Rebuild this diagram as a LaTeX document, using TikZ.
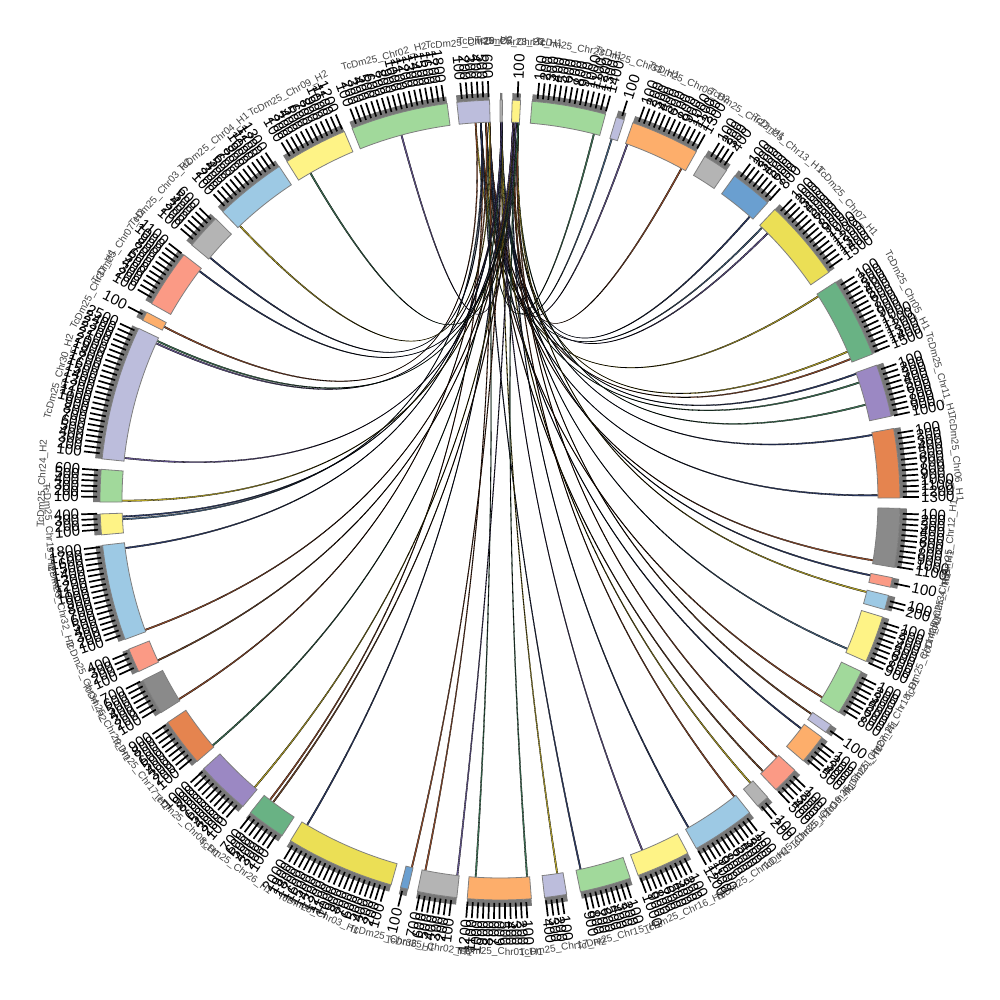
\documentclass[tikz,border=0pt]{standalone}
\usepackage{fontspec}
\setmainfont{Liberation Sans}
\definecolor{cLG}{HTML}{A1D99B}
\definecolor{cLV}{HTML}{BCBDDC}
\definecolor{cLO}{HTML}{FDAE6B}
\definecolor{cLY}{HTML}{B4B4B4}
\definecolor{cBL}{HTML}{6A9FD0}
\definecolor{cYD}{HTML}{EBDF55}
\definecolor{cMG}{HTML}{69B284}
\definecolor{cPU}{HTML}{9B88C3}
\definecolor{cOD}{HTML}{E5844F}
\definecolor{cDG}{HTML}{8A8A8A}
\definecolor{cSA}{HTML}{FB9A85}
\definecolor{cLB}{HTML}{9DC9E4}
\definecolor{cYL}{HTML}{FEF386}
\definecolor{bandline}{HTML}{7F7F7F}
\definecolor{stripgray}{HTML}{777777}
\definecolor{namegray}{HTML}{444444}
\definecolor{lkA}{HTML}{7A4A2A}
\definecolor{lkB}{HTML}{C9B52A}
\definecolor{lkC}{HTML}{2F3F6F}
\definecolor{lkD}{HTML}{3F7A5A}
\definecolor{lkE}{HTML}{6A5A9A}
\definecolor{lkF}{HTML}{A0522D}
\definecolor{lkG}{HTML}{4A6A8A}
\tikzset{
  band/.style={draw=bandline, line width=0.8pt},
  strip/.style={fill=stripgray},
  tickmark/.style={line width=1.7pt, draw=black},
  ticklab/.style={inner sep=0pt, font=\fontsize{15}{15}\selectfont, text=black},
  chrname/.style={inner sep=0pt, font=\fontsize{10}{10}\selectfont, text=namegray},
  ribbon/.style={draw=black, line width=0.3pt},
}
\begin{document}
\begin{tikzpicture}[x=1pt,y=1pt]
\useasboundingbox[fill=white] (-500pt,-500pt) rectangle (500pt,500pt);
% links (ribbons) from the top segments
\foreach \a/\b/\c in {
 357.0/14.5/lkD, 358.3/17.3/lkG, 0.1/19.8/lkE, 2.3/28.8/lkF,
 2.7/41.5/lkC, 357.8/44.0/lkG, 0.2/45.2/lkE, 356.2/57.5/lkB,
 1.9/67.0/lkB, 358.3/68.2/lkF, 0.1/70.6/lkC, 357.0/72.0/lkD, 2.7/75.5/lkD,
 0.2/80.2/lkC, 357.8/89.4/lkC, 358.3/99.3/lkF,
 0.1/101.6/lkC, 2.7/104.2/lkB, 0.2/113.3/lkG,
 357.0/121.6/lkF, 1.9/124.6/lkA, 358.3/127.3/lkC, 2.7/133.0/lkF,
 357.8/136.0/lkA, 0.2/138.6/lkB, 2.3/141.8/lkF, 1.9/150.2/lkC,
 0.1/158.0/lkE, 357.0/167.8/lkC, 0.2/171.4/lkB,
 2.3/176.0/lkD, 357.8/183.8/lkD, 1.9/186.6/lkE, 358.3/191.5/lkF, 0.1/193.6/lkF,
 0.2/210.8/lkC, 2.3/217.0/lkA, 357.0/217.6/lkF,
 1.9/220.6/lkB, 0.1/229.6/lkD, 357.8/238.3/lkF,
 2.3/245.0/lkA, 1.9/250.0/lkF,
 0.1/262.8/lkC, 357.0/267.2/lkG, 0.2/267.6/lkC, 2.3/270.0/lkB,
 1.9/276.5/lkE, 0.1/294.6/lkE, 2.7/295.0/lkD,
 356.2/297.4/lkF, 2.3/307.4/lkC, 357.0/310.0/lkC,
 358.3/316.6/lkB, 2.7/330.0/lkD, 2.3/345.0/lkE}{
  \pgfmathsetmacro{\aA}{90-\a}
  \pgfmathsetmacro{\aB}{90-\a-0.18}
  \pgfmathsetmacro{\bA}{90-\b}
  \pgfmathsetmacro{\bB}{90-\b+0.22}
  \filldraw[ribbon, fill=\c] (\aA:378pt) .. controls (\aA:126pt) and (\bA:126pt) .. (\bA:378pt)
     -- (\bB:378pt) .. controls (\bB:126pt) and (\aB:126pt) .. (\aB:378pt) -- cycle;
}
% segments
\foreach \s/\e/\c/\nm [count=\i] in {
 0.0/0.35/cLY/TcDm25\_Chr28\_H2,
 1.75/2.95/cYL/TcDm25\_Chr24\_H1,
 4.6/15.3/cLG/TcDm25\_Chr23\_H1,
 16.9/18.1/cLV/TcDm25\_Chr33\_H1,
 19.4/29.4/cLO/TcDm25\_Chr06\_H2,
 30.8/34.5/cLY/TcDm25\_Chr22\_H1,
 35.9/42.0/cBL/TcDm25\_Chr13\_H1,
 43.4/55.3/cYD/TcDm25\_Chr07\_H1,
 57.0/68.6/cMG/TcDm25\_Chr05\_H1,
 70.3/77.9/cPU/TcDm25\_Chr11\_H1,
 79.7/89.7/cOD/TcDm25\_Chr06\_H1,
 91.2/99.7/cDG/TcDm25\_Chr12\_H1,
 101.2/102.6/cSA/TcDm25\_Chr31\_H1,
 103.8/105.9/cLB/TcDm25\_Chr34\_H1,
 107.0/113.8/cYL/TcDm25\_Chr14\_H1,
 115.4/122.1/cLG/TcDm25\_Chr18\_H1,
 124.2/125.5/cLV/TcDm25\_Chr27\_H1,
 126.4/130.7/cLO/TcDm25\_Chr21\_H1,
 132.5/136.4/cSA/TcDm25\_Chr19\_H1,
 138.0/139.9/cLY/TcDm25\_Chr35\_H1,
 141.4/150.6/cLB/TcDm25\_Chr10\_H1,
 152.0/159.8/cYL/TcDm25\_Chr16\_H1,
 161.0/168.4/cLG/TcDm25\_Chr15\_H1,
 170.4/173.6/cLV/TcDm25\_Chr17\_H2,
 175.5/184.7/cLO/TcDm25\_Chr01\_H1,
 186.2/191.9/cLY/TcDm25\_Chr02\_H1,
 193.3/194.4/cBL/TcDm25\_Chr36\_H1,
 195.8/211.6/cYD/TcDm25\_Chr03\_H1,
 213.0/218.6/cMG/TcDm25\_Chr26\_H1,
 220.0/227.8/cPU/TcDm25\_Chr08\_H1,
 229.2/236.2/cOD/TcDm25\_Chr17\_H1,
 237.9/243.2/cDG/TcDm25\_Chr29\_H1,
 244.6/248.1/cSA/TcDm25\_Chr34\_H2,
 249.6/263.5/cLB/TcDm25\_Chr32\_H2,
 265.0/268.0/cYL/TcDm25\_Chr19\_H2,
 269.7/274.4/cLG/TcDm25\_Chr24\_H2,
 275.9/295.4/cLV/TcDm25\_Chr30\_H2,
 296.7/298.0/cLO/TcDm25\_Chr37\_H1,
 299.4/307.8/cSA/TcDm25\_Chr07\_H2,
 309.6/314.7/cLY/TcDm25\_Chr03\_H2,
 316.1/326.5/cLB/TcDm25\_Chr04\_H1,
 327.8/337.1/cYL/TcDm25\_Chr09\_H2,
 338.3/352.4/cLG/TcDm25\_Chr02\_H2,
 353.8/358.5/cLV/TcDm25\_Chr20\_H2}{
  \pgfmathsetmacro{\ts}{90-\s}
  \pgfmathsetmacro{\te}{90-\e}
  \fill[strip] (\ts:400pt) arc[start angle=\ts, end angle=\te, radius=400pt]
     -- (\te:407pt) arc[start angle=\te, end angle=\ts, radius=407pt] -- cycle;
  \filldraw[band, fill=\c] (\ts:378pt) arc[start angle=\ts, end angle=\te, radius=378pt]
     -- (\te:400pt) arc[start angle=\te, end angle=\ts, radius=400pt] -- cycle;
  \pgfmathtruncatemacro{\n}{floor((\e-\s)/0.76+0.1)}
  \ifnum\n>0
    \foreach \k in {1,...,\n}{
      \pgfmathsetmacro{\b}{\s+\k*0.76}
      \pgfmathsetmacro{\tb}{90-\b}
      \pgfmathtruncatemacro{\v}{\k*100}
      \pgfmathtruncatemacro{\side}{\b<180}
      \draw[tickmark] (\tb:403pt) -- (\tb:419pt);
      \ifnum\side=1
        \node[ticklab, rotate=\tb, anchor=west] (t\i-\k) at (\tb:421pt) {\v};
      \else
        \pgfmathsetmacro{\lr}{270-\b}
        \node[ticklab, rotate=\lr, anchor=east] (t\i-\k) at (\tb:421pt) {\v};
      \fi
    }
  \fi
  \pgfmathsetmacro{\m}{(\s+\e)/2}
  \pgfmathsetmacro{\rot}{(\m>90 && \m<270) ? 180-\m : -\m}
  \node[chrname, rotate=\rot, anchor=base] (n\i) at ({90-\m}:455pt) {\nm};
}
\end{tikzpicture}
\end{document}
